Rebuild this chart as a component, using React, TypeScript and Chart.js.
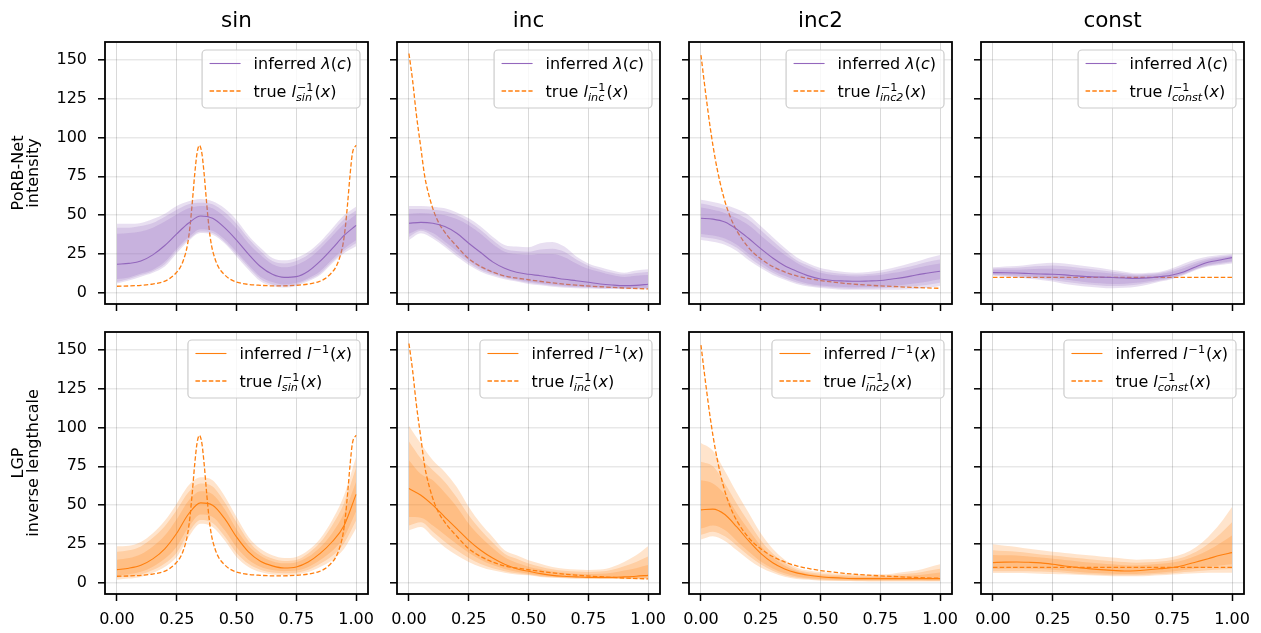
import React, { useEffect, useRef } from 'react';
import { Chart, registerables } from 'chart.js';

Chart.register(...registerables);

const FONT = "'DejaVu Sans', sans-serif";
const PURPLE = '#9467bd';
const ORANGE = '#ff7f0e';
const PURPLE_RGB = '148,103,189';
const ORANGE_RGB = '255,127,14';

// ---------- data ----------
const X_GRID = [0, 0.05, 0.1, 0.15, 0.2, 0.25, 0.3, 0.35, 0.4, 0.45, 0.5, 0.55, 0.6, 0.65, 0.7, 0.75, 0.8, 0.85, 0.9, 0.95, 1];
const X_TICKS = [0, 0.25, 0.5, 0.75, 1];
const Y_TICKS = [0, 25, 50, 75, 100, 125, 150];
const COLUMN_TITLES = ['sin', 'inc', 'inc2', 'const'];
const TRUE_SUBSCRIPTS = ['sin', 'inc', 'inc2', 'const'];
const ROW_LABELS = [['PoRB-Net', 'intensity'], ['LGP', 'inverse lengthcale']];

// true inverse lengthscale curves
const SIN_TRUE_X = [0, 0.05, 0.1, 0.145, 0.195, 0.22, 0.245, 0.265, 0.28, 0.295, 0.305, 0.315, 0.325, 0.335, 0.345, 0.355, 0.365, 0.375, 0.385, 0.395, 0.41, 0.425, 0.445, 0.47, 0.495, 0.545, 0.6, 0.67, 0.745, 0.795, 0.845, 0.87, 0.895, 0.915, 0.93, 0.945, 0.955, 0.965, 0.975, 0.985, 1];
const SIN_TRUE_Y = [4.3, 4.5, 4.9, 5.6, 7.3, 9.2, 12.5, 16.5, 22, 31, 42, 58, 76, 90, 95, 90, 76, 58, 42, 31, 22, 16.5, 12.5, 9.2, 7.3, 5.6, 4.9, 4.5, 4.9, 5.6, 7.3, 9.2, 12.5, 16.5, 22, 31, 42, 58, 76, 90, 95];
const INC_TRUE_X = [0, 0.015, 0.03, 0.05, 0.066, 0.085, 0.105, 0.125, 0.155, 0.2, 0.25, 0.3, 0.35, 0.4, 0.5, 0.6, 0.7, 0.8, 0.9, 1];
const INC_TRUE_Y = [154, 137, 116, 93, 75, 62, 52, 45, 38, 30, 22, 17, 13.5, 11, 8.5, 6.5, 5, 4, 3.2, 2.6];
const INC2_TRUE_X = [0, 0.02, 0.04, 0.06, 0.08, 0.1, 0.125, 0.15, 0.2, 0.25, 0.3, 0.35, 0.4, 0.5, 0.6, 0.7, 0.8, 0.9, 1];
const INC2_TRUE_Y = [153, 128, 105, 86, 71, 59, 48, 40, 29, 22, 17, 13.5, 11, 8, 6.2, 5, 4.2, 3.5, 3];
const CONST_TRUE_X = [0, 1];
const CONST_TRUE_Y = [10, 10];

// PoRB-Net intensity (top row): median, bands [outer, middle, inner]
const SIN_TOP_MED = [18.5, 19, 20.5, 24.5, 30.5, 38, 45, 49.5, 48, 42, 34, 25, 17, 12, 10, 10.5, 14, 20.5, 28.5, 37, 43.5];
const SIN_TOP_HI = [
  [44.5, 44.5, 45, 47.5, 51, 56, 59, 60.5, 59, 54.5, 47, 37, 29, 22.5, 21, 22.5, 26.5, 33, 41.5, 50, 55.5],
  [42, 42, 43, 45, 49, 53.5, 57, 58, 57, 52, 44.5, 35, 27, 20.5, 19, 20.5, 24.5, 31, 39, 47.5, 53],
  [38, 38.5, 39.5, 42, 46, 50.5, 54.5, 56, 54.5, 49, 41.5, 32, 24.5, 18.5, 16.5, 18, 22, 28.5, 36.5, 44.5, 50.5],
];
const SIN_TOP_LO = [
  [6, 8, 10.5, 13, 17, 25.5, 33.5, 38.5, 37.5, 32, 23.5, 15, 7.5, 4.5, 3.5, 4.5, 7.5, 11.5, 19, 25.5, 30],
  [7, 9, 11.5, 14, 18.5, 27, 34.5, 39.5, 38.5, 33, 25, 16.5, 9, 5.5, 4.5, 5.5, 8.5, 12.5, 20, 27, 32],
  [9, 10, 12.5, 15, 20, 28.5, 36, 41, 40, 34.5, 26.5, 18, 10.5, 7, 5.5, 6.5, 9.5, 14, 21.5, 28.5, 34],
];
const INC_TOP_MED = [44.8, 45.4, 44.8, 42.7, 38.4, 32, 26, 20, 15.9, 13.3, 12, 11.1, 10, 8.8, 7.9, 6.9, 5.8, 5.1, 4.7, 4.9, 5.6];
const INC_TOP_HI = [
  [56, 56, 55.5, 54.4, 51.7, 48, 42.7, 36.2, 30.9, 29.8, 29.4, 32, 32.8, 29.8, 23.4, 19, 16.5, 14.4, 13, 14.4, 15.2],
  [54, 54, 53.5, 52.5, 50, 46, 40.5, 34, 28.5, 27, 26.5, 28, 28.5, 26.5, 21.5, 17.5, 15, 13, 11.8, 12.8, 13.5],
  [51, 51.5, 51, 50, 47.5, 43.5, 38, 31.5, 26.5, 25, 24.5, 25, 25, 23, 19, 15.5, 13.5, 11.5, 10.3, 11, 11.5],
];
const INC_TOP_LO = [
  [34, 38.4, 35, 29.5, 23.4, 18, 13.7, 10.9, 8.8, 7.3, 5.8, 4.9, 4, 3.4, 3, 2.8, 2.6, 2.5, 2.4, 2.4, 2.4],
  [36, 40, 36.5, 31, 25, 19.5, 14.8, 11.8, 9.6, 8, 6.5, 5.6, 4.7, 4, 3.6, 3.3, 3.1, 3, 2.8, 2.8, 2.8],
  [38, 41, 38.5, 33, 27, 21, 16, 12.8, 10.5, 8.8, 7.3, 6.3, 5.4, 4.7, 4.2, 3.9, 3.6, 3.4, 3.2, 3.2, 3.3],
];
const INC2_TOP_MED = [48, 47.5, 45.6, 41, 35, 28.5, 22.5, 17.5, 14, 11, 9, 8, 7.7, 7.5, 7.7, 8, 9, 10, 11.6, 12.8, 14];
const INC2_TOP_HI = [
  [60, 58.5, 56.6, 54, 50, 43, 36, 29, 23, 19, 16, 14.5, 13.5, 13, 13.5, 14.5, 16, 18, 20, 22.5, 24.4],
  [57.5, 56, 54, 51, 47, 40.5, 33.5, 27, 21, 17.5, 14.5, 13, 12.2, 11.8, 12.2, 13, 14.5, 16.2, 18, 20, 21.5],
  [55, 53.5, 51.5, 48, 43.5, 37, 30.5, 24.5, 19.5, 15.5, 13, 11.6, 11, 10.6, 11, 11.6, 12.8, 14.2, 16, 17.6, 19],
];
const INC2_TOP_LO = [
  [34, 33, 31, 27, 21, 16, 11.6, 8.5, 5.8, 4.2, 3.2, 2.6, 2, 2, 2, 2, 2, 2.2, 2.6, 3.3, 4.5],
  [36, 35, 33, 29, 23, 17.5, 13, 9.5, 6.8, 5, 4, 3.3, 2.8, 2.7, 2.8, 3, 3.4, 3.8, 4.5, 5.3, 6.5],
  [38, 37, 35, 31, 25, 19.5, 14.5, 11, 8, 6, 4.8, 4.2, 3.8, 3.7, 3.8, 4.1, 4.6, 5.3, 6.3, 7.4, 8.8],
];
const CONST_TOP_MED = [13.1, 13, 12.8, 12.5, 12.2, 12, 11.6, 11, 10.5, 10.2, 9.9, 9.6, 9.4, 9.7, 10.5, 11.6, 13.7, 16.9, 19.7, 21.2, 22.7];
const CONST_TOP_HI = [
  [16.5, 17, 17.4, 18.2, 19, 19.5, 19, 18, 17, 16, 14.8, 13.7, 12.6, 13, 13.7, 15.9, 19, 21.6, 23.4, 24.4, 25],
  [15.8, 16, 16.2, 16.8, 17.3, 17.6, 17.2, 16.4, 15.5, 14.6, 13.6, 12.6, 11.9, 12.3, 13, 14.8, 17.5, 20.3, 22.4, 23.5, 24.3],
  [15, 15, 15, 15.3, 15.5, 15.6, 15.2, 14.6, 13.8, 13.1, 12.3, 11.6, 11.1, 11.5, 12.2, 13.6, 16.1, 19, 21.4, 22.6, 23.8],
];
const CONST_TOP_LO = [
  [11, 10.5, 10, 9.2, 8.4, 7.3, 5.8, 4.8, 4, 3.4, 3, 3.3, 4, 5.5, 7.3, 9, 11.6, 14.8, 17, 18, 19],
  [11.4, 11, 10.6, 10, 9.3, 8.4, 7.2, 6.2, 5.4, 4.8, 4.4, 4.6, 5.2, 6.5, 8, 9.5, 12, 15.2, 17.5, 18.7, 19.7],
  [11.8, 11.6, 11.3, 10.8, 10.2, 9.6, 8.6, 7.7, 6.8, 6.2, 5.8, 6, 6.5, 7.6, 8.8, 10, 12.5, 15.5, 18, 19.4, 20.4],
];

// LGP inverse lengthscale (bottom row)
const SIN_BOT_MED = [8.6, 9.5, 11.4, 15.5, 22, 32, 44.5, 51.5, 50, 41.5, 29.6, 20, 14, 11, 9.6, 10.3, 13.5, 19, 26.5, 37, 57];
const SIN_BOT_HI = [
  [23.6, 24, 26.4, 32, 40, 51, 62.8, 68, 66, 56, 42.4, 29.6, 22, 17.8, 16, 16.7, 21, 28.5, 40.3, 56.4, 81],
  [20, 21, 23.5, 29, 36.5, 47, 58.5, 64, 62, 52, 39, 27, 19.5, 15.8, 14.2, 14.8, 19, 26, 37, 51.5, 74],
  [15, 16, 18.5, 23.5, 30.5, 41, 53, 59, 57, 47.5, 34.5, 24, 17.5, 14, 12.6, 13.3, 16.8, 23, 32, 45, 65],
];
const SIN_BOT_LO = [
  [2.1, 2.8, 3.9, 6.5, 10.3, 16.7, 29.6, 38, 36, 27.4, 16.7, 10.3, 7, 5.4, 5, 5.4, 7, 10.3, 14.6, 22, 35],
  [3.5, 4.2, 5.5, 8.3, 12.5, 19.5, 32.5, 40.5, 38.5, 30, 19.3, 12.3, 8.5, 6.7, 6.2, 6.6, 8.5, 12.3, 17.3, 25.5, 40],
  [4.8, 5.6, 7.2, 10.5, 15.5, 23.5, 36, 44, 42.5, 34, 23, 15, 10.5, 8.3, 7.6, 8, 10.3, 14.8, 20.5, 29.5, 46],
];
const INC_BOT_MED = [60.7, 56.4, 50, 42.4, 35, 27.4, 21, 16, 12, 9.2, 7.5, 6, 4.9, 4.3, 3.9, 3.6, 3.6, 3.6, 3.9, 4.3, 4.9];
const INC_BOT_HI = [
  [101, 89.6, 78.9, 71.4, 61.7, 48.9, 38.2, 29.6, 21, 17.8, 14.6, 12.4, 10.3, 9.2, 8.6, 8.4, 8.6, 10.3, 13.5, 17.8, 23.6],
  [91, 80, 72.5, 65, 55, 43.5, 34, 26, 18.8, 15.5, 12.5, 10.5, 8.8, 7.8, 7.3, 7.1, 7.3, 8.5, 10.8, 13.5, 17],
  [79, 70, 66, 58, 49, 38, 29.5, 22.5, 16.5, 13, 10.5, 8.8, 7.3, 6.5, 6, 5.8, 5.9, 6.6, 8, 9.5, 11.5],
];
const INC_BOT_LO = [
  [33.9, 36, 29.6, 23, 17.8, 13.5, 10.3, 8.1, 6.6, 5.5, 4.9, 3.9, 3.4, 3, 2.8, 2.7, 2.6, 2.5, 2.4, 2.4, 2.4],
  [37, 39, 33, 26.5, 21, 16, 12.2, 9.5, 7.6, 6.2, 5.2, 4.2, 3.6, 3.2, 2.9, 2.8, 2.7, 2.7, 2.7, 2.7, 2.8],
  [42.4, 42, 37, 31, 25, 19.5, 15, 11.5, 9, 7.2, 6, 4.8, 4, 3.6, 3.3, 3.1, 3, 3, 3, 3.1, 3.3],
];
const INC2_BOT_MED = [47, 47.5, 44, 36, 27, 19, 13, 9, 6.5, 5, 4, 3.4, 3, 2.8, 2.8, 2.8, 2.8, 2.8, 2.8, 2.8, 2.8];
const INC2_BOT_HI = [
  [90, 85, 72, 58, 45, 32, 22, 15, 10, 8, 7, 6.3, 6, 5.6, 5.5, 5.6, 6, 7, 8, 10, 12],
  [78, 75, 64, 51, 39, 27.5, 19, 13, 8.7, 6.9, 6, 5.3, 5, 4.7, 4.6, 4.7, 5, 5.7, 6.4, 7.8, 9.2],
  [66, 64, 57, 45, 34, 24, 16.5, 11.3, 7.7, 6, 5, 4.4, 4.1, 3.9, 3.8, 3.9, 4.1, 4.5, 5, 5.8, 6.7],
];
const INC2_BOT_LO = [
  [28, 30, 27, 21, 15, 10, 6.5, 4, 2.5, 2, 1.5, 1.3, 1.2, 1.1, 1, 1, 1, 1, 1, 1, 1],
  [31, 33, 30, 24, 17.5, 12, 7.8, 5, 3.3, 2.5, 2, 1.7, 1.5, 1.4, 1.4, 1.4, 1.4, 1.4, 1.4, 1.3, 1.3],
  [35, 37, 34, 27, 20, 13.8, 9.3, 6.2, 4.2, 3.2, 2.6, 2.2, 2, 1.8, 1.8, 1.8, 1.8, 1.8, 1.8, 1.8, 1.8],
];
const CONST_BOT_MED = [13.1, 13.4, 13.5, 13.3, 12.9, 12, 10.9, 10, 9.2, 8.6, 8.1, 7.7, 7.9, 8.5, 9.2, 9.9, 11.4, 13.5, 15.6, 17.8, 19.5];
const CONST_BOT_HI = [
  [24.9, 24, 23.2, 22, 21, 20, 19.3, 18.5, 17.8, 17, 16.3, 15.6, 15, 15.2, 15.6, 16.7, 18.9, 23.2, 29.6, 38.2, 48.9],
  [21, 20.5, 20, 19.2, 18.3, 17.6, 16.8, 16, 15.3, 14.6, 14, 13.4, 13, 13.3, 13.8, 14.8, 16.7, 20, 25, 31.5, 39],
  [18, 17.8, 17.6, 17, 16.4, 15.6, 14.8, 14, 13.2, 12.5, 12, 11.4, 11.3, 11.7, 12.3, 13.2, 14.8, 17.5, 21, 25.5, 30.5],
];
const CONST_BOT_LO = [
  [6.4, 6.4, 6.4, 6.2, 6, 5.8, 5.6, 5.2, 4.9, 4.6, 4.3, 4.3, 4.3, 4.5, 4.9, 5.4, 6, 6.3, 6.6, 6.6, 6.6],
  [7.5, 7.6, 7.6, 7.5, 7.3, 7, 6.5, 6, 5.6, 5.3, 5, 4.9, 5, 5.3, 5.7, 6.2, 7, 7.6, 8.2, 8.7, 9],
  [9, 9.2, 9.3, 9.2, 9, 8.5, 7.8, 7.2, 6.6, 6.2, 5.9, 5.7, 5.8, 6.2, 6.8, 7.4, 8.3, 9.3, 10.3, 11.3, 12],
];

const TRUE_X = [SIN_TRUE_X, INC_TRUE_X, INC2_TRUE_X, CONST_TRUE_X];
const TRUE_Y = [SIN_TRUE_Y, INC_TRUE_Y, INC2_TRUE_Y, CONST_TRUE_Y];
const MEDIANS = [
  [SIN_TOP_MED, INC_TOP_MED, INC2_TOP_MED, CONST_TOP_MED],
  [SIN_BOT_MED, INC_BOT_MED, INC2_BOT_MED, CONST_BOT_MED],
];
const HIS = [
  [SIN_TOP_HI, INC_TOP_HI, INC2_TOP_HI, CONST_TOP_HI],
  [SIN_BOT_HI, INC_BOT_HI, INC2_BOT_HI, CONST_BOT_HI],
];
const LOS = [
  [SIN_TOP_LO, INC_TOP_LO, INC2_TOP_LO, CONST_TOP_LO],
  [SIN_BOT_LO, INC_BOT_LO, INC2_BOT_LO, CONST_BOT_LO],
];

// ---------- layout ----------
const COL_LEFT = [105, 397, 689, 981];
const ROW_TOP = [42, 332];
const PLOT_W = 263;
const PLOT_H = 262;
const PAD_L = 105;
const PAD_R = 6;
const PAD_T = 42;
const PAD_B = 39;
const CW = PAD_L + PLOT_W + PAD_R;
const CH = PAD_T + PLOT_H + PAD_B;
const FS = 16;

type Seg = { t: string; it?: boolean; sup?: string; sub?: string };

function drawSegs(ctx: CanvasRenderingContext2D, segs: Seg[], x0: number, y: number, fs: number, draw: boolean) {
  let x = x0;
  for (const s of segs) {
    ctx.font = `${s.it ? 'italic ' : ''}${fs}px ${FONT}`;
    if (draw) ctx.fillText(s.t, x, y);
    x += ctx.measureText(s.t).width;
    if (s.sup || s.sub) {
      const sfs = fs * 0.7;
      let w = 0;
      if (s.sup) {
        ctx.font = `${sfs}px ${FONT}`;
        if (draw) ctx.fillText(s.sup, x + 1, y - fs * 0.36);
        w = Math.max(w, ctx.measureText(s.sup).width + 1);
      }
      if (s.sub) {
        ctx.font = `italic ${sfs}px ${FONT}`;
        if (draw) ctx.fillText(s.sub, x, y + fs * 0.3);
        w = Math.max(w, ctx.measureText(s.sub).width);
      }
      x += w + 1;
    }
  }
  return x - x0;
}

type Row = { segs: Seg[]; color: string; dash: number[]; width: number };

function makeDecor(title: string | null, rows: Row[]) {
  return {
    id: 'decor',
    afterDatasetsDraw(chart: any) {
      const { ctx, chartArea: a } = chart;
      ctx.save();
      ctx.strokeStyle = '#000';
      ctx.lineWidth = 1.8;
      ctx.strokeRect(a.left, a.top, a.right - a.left, a.bottom - a.top);
      if (title) {
        ctx.font = `21.5px ${FONT}`;
        ctx.fillStyle = '#000';
        ctx.textAlign = 'center';
        ctx.textBaseline = 'alphabetic';
        ctx.fillText(title, (a.left + a.right) / 2, a.top - 15);
      }
      ctx.textAlign = 'left';
      ctx.textBaseline = 'alphabetic';
      const textW = Math.max(...rows.map((r) => drawSegs(ctx, r.segs, 0, 0, FS, false)));
      const boxW = 7.5 + 31 + 13 + textW + 8;
      const boxH = 58;
      const bx = a.right - 8 - boxW;
      const by = a.top + 8;
      ctx.beginPath();
      ctx.roundRect(bx, by, boxW, boxH, 4);
      ctx.fillStyle = 'rgba(255,255,255,0.8)';
      ctx.fill();
      ctx.strokeStyle = '#cccccc';
      ctx.lineWidth = 1.2;
      ctx.stroke();
      rows.forEach((r, i) => {
        const cy = by + 13.5 + i * 27.5;
        ctx.beginPath();
        ctx.setLineDash(r.dash);
        ctx.strokeStyle = r.color;
        ctx.lineWidth = r.width;
        ctx.moveTo(bx + 7.5, cy);
        ctx.lineTo(bx + 38.5, cy);
        ctx.stroke();
        ctx.setLineDash([]);
        ctx.fillStyle = '#000';
        drawSegs(ctx, r.segs, bx + 51.5, cy + 5.5, FS, true);
      });
      ctx.restore();
    },
  };
}

function pts(xs: number[], ys: number[]) {
  return ys.map((y, i) => ({ x: xs[i], y }));
}

function buildConfig(row: number, col: number): any {
  const color = row === 0 ? PURPLE : ORANGE;
  const rgb = row === 0 ? PURPLE_RGB : ORANGE_RGB;
  const datasets: any[] = [];
  const common = { pointRadius: 0, pointHoverRadius: 0, cubicInterpolationMode: 'monotone' };
  for (let k = 0; k < 3; k++) {
    datasets.push({ ...common, data: pts(X_GRID, LOS[row][col][k]), borderWidth: 0, borderColor: 'transparent', fill: false });
    datasets.push({
      ...common,
      data: pts(X_GRID, HIS[row][col][k]),
      borderWidth: 0,
      borderColor: 'transparent',
      fill: '-1',
      backgroundColor: `rgba(${rgb},0.21)`,
    });
  }
  datasets.push({ ...common, data: pts(X_GRID, MEDIANS[row][col]), borderColor: color, borderWidth: 1.1, fill: false });
  datasets.push({
    ...common,
    data: pts(TRUE_X[col], TRUE_Y[col]),
    borderColor: ORANGE,
    borderWidth: 1.3,
    borderDash: [4.5, 2.2],
    fill: false,
  });

  const sub = TRUE_SUBSCRIPTS[col];
  const rows: Row[] = [
    {
      segs:
        row === 0
          ? [{ t: 'inferred ' }, { t: 'λ', it: true }, { t: '(' }, { t: 'c', it: true }, { t: ')' }]
          : [{ t: 'inferred ' }, { t: 'l', it: true, sup: '−1' }, { t: '(' }, { t: 'x', it: true }, { t: ')' }],
      color,
      dash: [],
      width: 1.1,
    },
    {
      segs: [{ t: 'true ' }, { t: 'l', it: true, sup: '−1', sub }, { t: '(' }, { t: 'x', it: true }, { t: ')' }],
      color: ORANGE,
      dash: [4.5, 2.2],
      width: 1.3,
    },
  ];

  const tickFont = { family: FONT, size: FS };
  return {
    type: 'line',
    data: { datasets },
    options: {
      animation: false,
      responsive: false,
      devicePixelRatio: 1,
      events: [],
      layout: { padding: { left: 0, right: PAD_R, top: PAD_T, bottom: 0 } },
      plugins: { legend: { display: false }, tooltip: { enabled: false }, title: { display: false } },
      scales: {
        x: {
          type: 'linear',
          position: 'bottom',
          min: -0.05,
          max: 1.05,
          afterBuildTicks: (s: any) => {
            s.ticks = X_TICKS.map((v) => ({ value: v }));
          },
          afterFit: (s: any) => {
            s.height = PAD_B;
            s.paddingLeft = 0;
            s.paddingRight = 0;
          },
          ticks: {
            display: row === 1,
            font: tickFont,
            color: '#000',
            padding: 9,
            maxRotation: 0,
            autoSkip: false,
            callback: (v: any) => Number(v).toFixed(2),
          },
          grid: {
            color: 'rgba(0,0,0,0.15)',
            lineWidth: 1,
            tickColor: '#000',
            tickWidth: 1.5,
            tickLength: 7,
            drawTicks: true,
          },
          border: { display: false },
        },
        y: {
          type: 'linear',
          position: 'left',
          min: -7.1,
          max: 161.4,
          afterBuildTicks: (s: any) => {
            s.ticks = Y_TICKS.map((v) => ({ value: v }));
          },
          afterFit: (s: any) => {
            s.width = PAD_L;
            s.paddingTop = 0;
            s.paddingBottom = 0;
          },
          ticks: {
            display: col === 0,
            font: tickFont,
            color: '#000',
            padding: 11,
            autoSkip: false,
            callback: (v: any) => String(v),
          },
          grid: {
            color: 'rgba(0,0,0,0.09)',
            lineWidth: 1.6,
            tickColor: '#000',
            tickWidth: 1.5,
            tickLength: 7,
            drawTicks: true,
          },
          border: { display: false },
          title: {
            display: col === 0,
            text: ROW_LABELS[row],
            color: '#000',
            font: { family: FONT, size: FS, lineHeight: 0.94 },
            padding: { top: 11, bottom: 0 },
          },
        },
      },
    },
    plugins: [makeDecor(row === 0 ? COLUMN_TITLES[col] : null, rows)],
  };
}

const PANELS = [0, 1].flatMap((row) => [0, 1, 2, 3].map((col) => ({ row, col })));

export default function App() {
  const refs = useRef<(HTMLCanvasElement | null)[]>([]);
  useEffect(() => {
    const charts = PANELS.map((p, i) => new Chart(refs.current[i] as HTMLCanvasElement, buildConfig(p.row, p.col)));
    return () => charts.forEach((c) => c.destroy());
  }, []);
  return (
    <div style={{ position: 'fixed', left: 0, top: 0, width: 1261, height: 633, background: '#fff', overflow: 'hidden' }}>
      {PANELS.map((p, i) => (
        <canvas
          key={i}
          ref={(el) => {
            refs.current[i] = el;
          }}
          width={CW}
          height={CH}
          style={{ position: 'absolute', left: COL_LEFT[p.col] - PAD_L, top: ROW_TOP[p.row] - PAD_T, width: CW, height: CH }}
        />
      ))}
    </div>
  );
}
